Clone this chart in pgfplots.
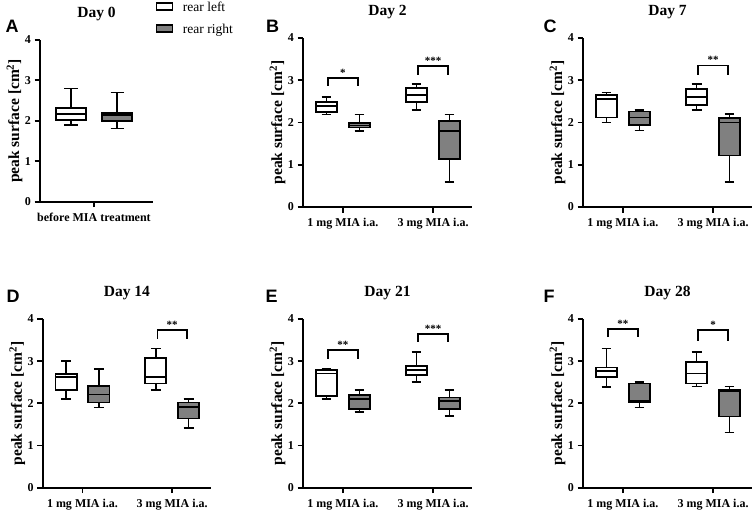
\documentclass[border=0pt]{standalone}
\usepackage{fontspec}
\setmainfont{Liberation Serif}
\newfontfamily\arial{Liberation Sans}
\usepackage{pgfplots}
\pgfplotsset{compat=1.18}
\usepgfplotslibrary{statistics}

\newcommand\tickfont{\bfseries\fontsize{12}{14}\selectfont}
\newcommand\labfont{\bfseries\fontsize{15.5}{17}\selectfont}
\newcommand\starfont{\bfseries\fontsize{11}{12}\selectfont}
\newcommand\letfont{\arial\bfseries\fontsize{18}{18}\selectfont}

\pgfplotsset{
 prism/.style={
   scale only axis, clip=false,
   boxplot/draw direction=y,
   ymin=0, ymax=4, ytick={0,1,2,3,4},
   axis x line*=bottom, axis y line*=left,
   axis line style={line width=1.9pt, -},
   tick align=outside, major tick length=5.5pt,
   tick style={black, line width=1.9pt},
   minor tick num=0,
   /pgf/number format/assume math mode=true,
   ticklabel style={font=\tickfont},
   xticklabel style={yshift=-2.5pt},
   ylabel={peak surface [cm\textsuperscript{2}]},
   every axis y label/.style={at={(axis description cs:0,0.5)}, anchor=center, xshift=-25.5pt, rotate=90, font=\labfont},
   every axis title/.style={at={(axis description cs:0.5,1)}, anchor=center, yshift=26pt, font=\labfont},
 },
 prismB/.style={prism, width=169pt, height=169pt, xmin=-0.444, xmax=1.433, xtick={0,1},
   xticklabels={1 mg MIA i.a., 3 mg MIA i.a.}},
 lbox/.style={draw=black, fill=white, line width=1.8pt, solid, mark=none},
 rbox/.style={draw=black, fill=gray, line width=1.8pt, solid, mark=none},
 brk/.style={black, line width=1.7pt, mark=none},
}
\newcommand\stars[3]{\node[anchor=base, font=\starfont, inner sep=0] at (axis cs:#1,#2) {#3};}

\begin{document}
\begin{tikzpicture}[x=1pt,y=1pt]
\useasboundingbox (0,0) rectangle (754,512);

% ---------------- Panel A: Day 0
\begin{axis}[prism, at={(40pt,310.3pt)}, width=113pt, height=161.7pt,
  xmin=-0.6, xmax=0.656, xtick={0}, xticklabels={before MIA treatment}, title={Day 0}]
\addplot[lbox, boxplot prepared={draw position=-0.257, box extend=0.333, whisker extend=0.15,
  lower whisker=1.89, lower quartile=2.02, median=2.16, upper quartile=2.31, upper whisker=2.80}] coordinates {};
\addplot[rbox, boxplot prepared={draw position=0.26, box extend=0.333, whisker extend=0.15,
  lower whisker=1.81, lower quartile=2.00, median=2.14, upper quartile=2.20, upper whisker=2.70}] coordinates {};
\end{axis}

% ---------------- Panel B: Day 2
\begin{axis}[prismB, at={(303pt,305pt)}, title={Day 2}]
\addplot[lbox, boxplot prepared={draw position=-0.183, box extend=0.235, whisker extend=0.11,
  lower whisker=2.19, lower quartile=2.24, median=2.39, upper quartile=2.48, upper whisker=2.60}] coordinates {};
\addplot[rbox, boxplot prepared={draw position=0.183, box extend=0.235, whisker extend=0.11,
  lower whisker=1.80, lower quartile=1.88, median=1.93, upper quartile=1.99, upper whisker=2.19}] coordinates {};
\addplot[lbox, boxplot prepared={draw position=0.817, box extend=0.235, whisker extend=0.11,
  lower whisker=2.30, lower quartile=2.48, median=2.65, upper quartile=2.81, upper whisker=2.91}] coordinates {};
\addplot[rbox, boxplot prepared={draw position=1.183, box extend=0.235, whisker extend=0.11,
  lower whisker=0.59, lower quartile=1.13, median=1.80, upper quartile=2.04, upper whisker=2.19}] coordinates {};
\addplot[brk] coordinates {(-0.163,2.87) (-0.163,3.05) (0.163,3.05) (0.163,2.87)};
\addplot[brk] coordinates {(0.837,3.13) (0.837,3.34) (1.163,3.34) (1.163,3.13)};
\stars{0}{3.09}{*}
\stars{1}{3.38}{***}
\end{axis}

% ---------------- Panel C: Day 7
\begin{axis}[prismB, at={(583pt,305pt)}, title={Day 7}]
\addplot[lbox, boxplot prepared={draw position=-0.183, box extend=0.235, whisker extend=0.11,
  lower whisker=2.00, lower quartile=2.12, median=2.55, upper quartile=2.65, upper whisker=2.71}] coordinates {};
\addplot[rbox, boxplot prepared={draw position=0.183, box extend=0.235, whisker extend=0.11,
  lower whisker=1.81, lower quartile=1.94, median=2.12, upper quartile=2.26, upper whisker=2.30}] coordinates {};
\addplot[lbox, boxplot prepared={draw position=0.817, box extend=0.235, whisker extend=0.11,
  lower whisker=2.30, lower quartile=2.41, median=2.60, upper quartile=2.79, upper whisker=2.91}] coordinates {};
\addplot[rbox, boxplot prepared={draw position=1.183, box extend=0.235, whisker extend=0.11,
  lower whisker=0.59, lower quartile=1.22, median=2.00, upper quartile=2.10, upper whisker=2.20}] coordinates {};
\addplot[brk] coordinates {(0.837,3.13) (0.837,3.35) (1.163,3.35) (1.163,3.13)};
\stars{1}{3.39}{**}
\end{axis}

% ---------------- Panel D: Day 14
\begin{axis}[prismB, at={(42.7pt,24.3pt)}, width=168.3pt, height=168.7pt, title={Day 14}]
\addplot[lbox, boxplot prepared={draw position=-0.183, box extend=0.235, whisker extend=0.11,
  lower whisker=2.11, lower quartile=2.32, median=2.62, upper quartile=2.69, upper whisker=3.01}] coordinates {};
\addplot[rbox, boxplot prepared={draw position=0.183, box extend=0.235, whisker extend=0.11,
  lower whisker=1.90, lower quartile=2.02, median=2.21, upper quartile=2.41, upper whisker=2.81}] coordinates {};
\addplot[lbox, boxplot prepared={draw position=0.817, box extend=0.235, whisker extend=0.11,
  lower whisker=2.31, lower quartile=2.47, median=2.62, upper quartile=3.07, upper whisker=3.30}] coordinates {};
\addplot[rbox, boxplot prepared={draw position=1.183, box extend=0.235, whisker extend=0.11,
  lower whisker=1.41, lower quartile=1.64, median=1.92, upper quartile=2.02, upper whisker=2.11}] coordinates {};
\addplot[brk] coordinates {(0.837,3.53) (0.837,3.74) (1.163,3.74) (1.163,3.53)};
\stars{1}{3.78}{**}
\end{axis}

% ---------------- Panel E: Day 21
\begin{axis}[prismB, at={(303pt,24.3pt)}, height=168.7pt, title={Day 21}]
\addplot[lbox, boxplot prepared={draw position=-0.183, box extend=0.235, whisker extend=0.11,
  lower whisker=2.11, lower quartile=2.17, median=2.71, upper quartile=2.80, upper whisker=2.81}] coordinates {};
\addplot[rbox, boxplot prepared={draw position=0.183, box extend=0.235, whisker extend=0.11,
  lower whisker=1.80, lower quartile=1.87, median=2.11, upper quartile=2.20, upper whisker=2.31}] coordinates {};
\addplot[lbox, boxplot prepared={draw position=0.817, box extend=0.235, whisker extend=0.11,
  lower whisker=2.51, lower quartile=2.67, median=2.79, upper quartile=2.88, upper whisker=3.21}] coordinates {};
\addplot[rbox, boxplot prepared={draw position=1.183, box extend=0.235, whisker extend=0.11,
  lower whisker=1.70, lower quartile=1.87, median=2.06, upper quartile=2.14, upper whisker=2.31}] coordinates {};
\addplot[brk] coordinates {(-0.163,3.06) (-0.163,3.26) (0.163,3.26) (0.163,3.06)};
\addplot[brk] coordinates {(0.837,3.46) (0.837,3.64) (1.163,3.64) (1.163,3.46)};
\stars{0}{3.30}{**}
\stars{1}{3.68}{***}
\end{axis}

% ---------------- Panel F: Day 28
\begin{axis}[prismB, at={(583pt,24.3pt)}, height=168.7pt, title={Day 28}]
\addplot[lbox, boxplot prepared={draw position=-0.183, box extend=0.235, whisker extend=0.11,
  lower whisker=2.39, lower quartile=2.63, median=2.77, upper quartile=2.85, upper whisker=3.30}] coordinates {};
\addplot[rbox, boxplot prepared={draw position=0.183, box extend=0.235, whisker extend=0.11,
  lower whisker=1.90, lower quartile=2.02, median=2.05, upper quartile=2.47, upper whisker=2.51}] coordinates {};
\addplot[lbox, boxplot prepared={draw position=0.817, box extend=0.235, whisker extend=0.11,
  lower whisker=2.40, lower quartile=2.47, median=2.71, upper quartile=2.98, upper whisker=3.21}] coordinates {};
\addplot[rbox, boxplot prepared={draw position=1.183, box extend=0.235, whisker extend=0.11,
  lower whisker=1.31, lower quartile=1.69, median=2.29, upper quartile=2.33, upper whisker=2.40}] coordinates {};
\addplot[brk] coordinates {(-0.163,3.57) (-0.163,3.77) (0.163,3.77) (0.163,3.57)};
\addplot[brk] coordinates {(0.837,3.49) (0.837,3.74) (1.163,3.74) (1.163,3.49)};
\stars{0}{3.81}{**}
\stars{1}{3.78}{*}
\end{axis}

% ---------------- Legend
\draw[line width=1.7pt, fill=white] (156.5,502) rectangle (172.5,509.3);
\draw[line width=1.7pt, fill=gray] (156.5,479.7) rectangle (172.5,487);
\node[anchor=base west, inner sep=0, font=\fontsize{13.5}{14}\selectfont] at (182.7,500.8) {rear left};
\node[anchor=base west, inner sep=0, font=\fontsize{13.5}{14}\selectfont] at (182.7,478.7) {rear right};

% ---------------- Panel letters
\node[inner sep=0, anchor=center, font=\letfont] at (12,485.5) {A};
\node[inner sep=0, anchor=center, font=\letfont] at (272.5,485.5) {B};
\node[inner sep=0, anchor=center, font=\letfont] at (550,485.5) {C};
\node[inner sep=0, anchor=center, font=\letfont] at (13,215.5) {D};
\node[inner sep=0, anchor=center, font=\letfont] at (271.5,215.5) {E};
\node[inner sep=0, anchor=center, font=\letfont] at (549,215.5) {F};
\end{tikzpicture}
\end{document}
